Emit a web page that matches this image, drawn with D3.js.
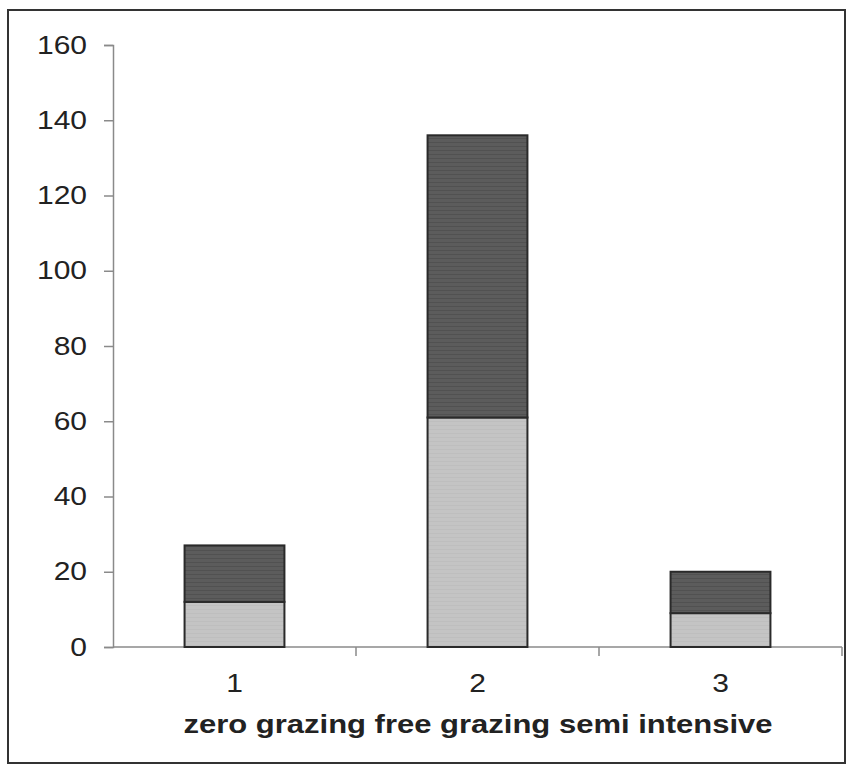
<!DOCTYPE html>
<html><head><meta charset="utf-8">
<script src="https://cdn.jsdelivr.net/npm/d3@7"></script>
<style>body{margin:0;background:#fff}svg{display:block}</style>
</head><body>
<svg id="c" width="847" height="765"></svg>
<script>
const categories = ["1","2","3"];
const lowerValues = [12, 61, 9];
const upperValues = [15, 75, 11];
const yTicks = [0,20,40,60,80,100,120,140,160];
const xTitle = "zero grazing free grazing semi intensive";

(function(){
const svg = d3.select("#c");
const mLeft = 113, mRight = 842, mTop = 45, mBottom = 647;
const FONT = "Liberation Sans, Arial, sans-serif";
const SX = 1.2;

const defs = svg.append("defs");
const pat = defs.append("pattern").attr("id","darkTex").attr("patternUnits","userSpaceOnUse")
  .attr("width",8).attr("height",4);
pat.append("rect").attr("width",8).attr("height",4).attr("fill","#5c5c5c");
pat.append("rect").attr("y",2).attr("width",8).attr("height",1).attr("fill","#515151");
const pat2 = defs.append("pattern").attr("id","lightTex").attr("patternUnits","userSpaceOnUse")
  .attr("width",6).attr("height",4);
pat2.append("rect").attr("width",6).attr("height",4).attr("fill","#c4c4c4");
pat2.append("rect").attr("y",1).attr("width",6).attr("height",1).attr("fill","#bebebe");

svg.append("rect").attr("x",8).attr("y",10).attr("width",837).attr("height",753)
  .attr("fill","#fff").attr("stroke","#333").attr("stroke-width",2);

const x = d3.scaleBand().domain(categories).range([mLeft,mRight]).paddingInner(0.589).paddingOuter(0.2945);
const y = d3.scaleLinear().domain([0,160]).range([mBottom,mTop]);

const data = categories.map((c,i)=>({c, lo: lowerValues[i], hi: upperValues[i]}));
const stack = d3.stack().keys(["lo","hi"])(data);
const fills = ["url(#lightTex)","url(#darkTex)"];

const yAxis = svg.append("g").attr("transform",`translate(${mLeft},0)`)
  .call(d3.axisLeft(y).tickValues(yTicks).tickSize(9).tickPadding(17));
yAxis.select(".domain").attr("stroke","#8a8a8a").attr("stroke-width",1.5);
yAxis.selectAll(".tick line").attr("stroke","#8a8a8a").attr("stroke-width",1.5);
yAxis.selectAll("text").attr("font-family",FONT)
  .attr("font-size",25).attr("fill","#222")
  .attr("x",-26/SX).attr("transform",`scale(${SX},1)`);

const xb = d3.scaleLinear().domain([0,3]).range([mLeft,mRight]);
const xAxis = svg.append("g").attr("transform",`translate(0,${mBottom})`);
xAxis.append("line").attr("x1",mLeft).attr("x2",mRight).attr("stroke","#8a8a8a").attr("stroke-width",1.5);
xAxis.selectAll("line.t").data([1,2,3]).join("line").attr("class","t")
  .attr("x1",d=>xb(d)).attr("x2",d=>xb(d)).attr("y1",0).attr("y2",9)
  .attr("stroke","#8a8a8a").attr("stroke-width",1.5);
xAxis.selectAll("text").data(categories).join("text")
  .attr("transform",d=>`translate(${x(d)+x.bandwidth()/2},45) scale(${SX},1)`)
  .attr("text-anchor","middle")
  .attr("font-family",FONT).attr("font-size",25).attr("fill","#222")
  .text(d=>d);

stack.forEach((s,k)=>{
  svg.append("g").selectAll("rect").data(s).join("rect")
    .attr("x", d=>x(d.data.c))
    .attr("width", x.bandwidth())
    .attr("y", d=>y(d[1]))
    .attr("height", d=>y(d[0])-y(d[1]))
    .attr("fill", fills[k])
    .attr("stroke","#2a2a2a").attr("stroke-width",2);
});

svg.append("text").attr("transform",`translate(478,733) scale(1.24,1)`).attr("text-anchor","middle")
  .attr("font-family",FONT).attr("font-weight","bold")
  .attr("font-size",25).attr("fill","#222").text(xTitle);
})();
</script>
</body></html>
